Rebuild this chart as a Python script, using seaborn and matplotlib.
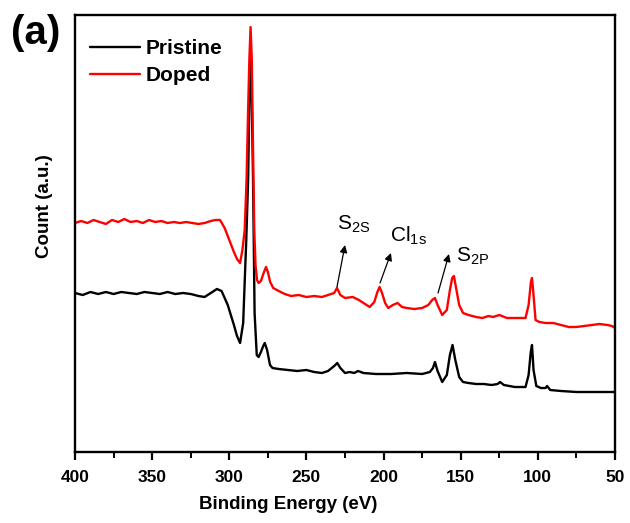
import numpy as np
import pandas as pd
import matplotlib
matplotlib.use("Agg")
import matplotlib.pyplot as plt
import seaborn as sns
from matplotlib.ticker import MultipleLocator

# ---- data (binding energy in eV, count in arbitrary units) ----
pristine_energy = [400, 395, 390, 385, 380, 375, 370, 365, 360, 355, 350, 345, 340, 335, 330, 325,
                   320, 316, 312, 308, 305, 301, 297, 295, 293, 291, 289, 287.8, 287, 286.2, 285.4,
                   284.6, 283.6, 282.2, 281, 279.5, 278, 277, 275.5, 273.6, 272, 268, 262, 256, 250,
                   245, 240, 236, 232, 230, 228, 225, 222, 219, 216.6, 213, 205, 195, 185, 175, 170,
                   168, 166.7, 165, 162, 159, 157, 155.3, 153.5, 151, 148.5, 145, 140, 135, 130, 126,
                   124.5, 122, 115, 108, 106, 104.6, 103.8, 102.8, 101, 98, 95, 94, 92, 85, 75, 65,
                   55, 50]
pristine_count = [159, 157, 160, 158, 160, 158, 160, 159, 158, 160, 159, 158, 160, 158, 159, 158,
                  156, 155, 159, 163, 161, 147, 127, 116, 109, 129, 212, 272, 350, 397, 350,
                  272, 139, 97, 95, 100, 106, 109, 102, 87, 84, 83, 82, 81, 82,
                  80, 79, 81, 86, 89, 84, 79, 80, 79, 81, 79, 78, 78, 79, 78, 80,
                  84, 90, 81, 70, 77, 97, 107, 92, 75, 70, 69, 68, 68, 67, 68,
                  70, 67, 65, 65, 77, 100, 107, 82, 66, 64, 64, 66, 62, 61, 60, 60,
                  60, 60]

doped_energy = [400, 396, 392, 388, 384, 380, 376, 372, 368, 364, 360, 356, 352, 348, 344, 340,
                336, 332, 328, 324, 320, 316, 312, 309, 306, 303, 300, 297, 295, 293, 291.5, 290,
                288.8, 287.8, 287, 286.2, 285.4, 284.6, 283.8, 283, 282, 281, 279.5, 277.5, 276.2,
                275, 273.5, 271.5, 268, 264, 260, 255, 250, 245, 240, 236, 232, 230.2, 228, 225,
                220, 216, 212, 209, 206, 204, 202.6, 201, 199, 197, 194, 191, 188, 185, 180, 175,
                171, 168.5, 166.7, 165, 162, 159, 157, 155.5, 154.4, 153, 151, 148.5, 145, 140,
                136, 132, 129, 125, 120, 113, 108, 106, 104.5, 103.8, 102.8, 101.5, 99, 95, 90,
                85, 80, 75, 70, 65, 60, 55, 52, 50]
doped_count = [229, 231, 229, 232, 230, 228, 232, 230, 233, 230, 231, 229, 232, 230, 231, 229,
               230, 229, 230, 229, 228, 229, 231, 232, 232, 224, 212, 200, 193, 189, 202, 222,
               272, 342, 392, 425, 392, 302, 222, 187, 172, 169, 171, 180, 185,
               180, 170, 164, 161, 158, 156, 157, 155, 156, 155, 157, 159, 164, 157, 154,
               155, 152, 148, 145, 150, 160, 165, 159, 149, 144, 147, 149, 145, 144, 143, 144,
               147, 152, 154, 147, 137, 142, 162, 174, 176, 164, 147, 139, 137, 135,
               134, 136, 135, 137, 134, 134, 134, 147, 170, 174, 157, 132, 130, 129, 129,
               127, 125, 125, 126, 127, 128, 127, 126, 124]

series_names = ["Pristine", "Doped"]
series_colors = ["#000000", "#ff0000"]
x_ticks = [400, 350, 300, 250, 200, 150, 100, 50]

# annotations: (label, arrow tail (E, count), arrow head (E, count), text position (E, count))
peak_labels = [r"S$_{\mathregular{2S}}$", r"Cl$_{\mathregular{1s}}$", r"S$_{\mathregular{2P}}$"]
arrow_tails = [(230.2, 165), (202.3, 169), (164.7, 159)]
arrow_heads = [(225.0, 207), (195.2, 199), (157.6, 198)]
text_pos = [(230.2, 222), (195.8, 210), (153.0, 190)]

df = pd.concat([
    pd.DataFrame({"Binding Energy (eV)": pristine_energy, "Count": pristine_count,
                  "Sample": series_names[0]}),
    pd.DataFrame({"Binding Energy (eV)": doped_energy, "Count": doped_count,
                  "Sample": series_names[1]}),
], ignore_index=True)

sns.set_theme(style="ticks")
plt.rcParams["font.family"] = ["Liberation Sans", "DejaVu Sans"]
plt.rcParams["mathtext.fontset"] = "custom"
plt.rcParams["mathtext.rm"] = "Liberation Sans"
plt.rcParams["mathtext.it"] = "Liberation Sans:italic"
plt.rcParams["mathtext.bf"] = "Liberation Sans:bold"
plt.rcParams["text.color"] = "black"
plt.rcParams["axes.labelcolor"] = "black"
plt.rcParams["xtick.color"] = "black"
plt.rcParams["ytick.color"] = "black"
plt.rcParams["axes.edgecolor"] = "black"

fig = plt.figure(figsize=(6.3, 5.23), dpi=100)
ax = fig.add_axes([75 / 630, 1 - 452 / 523, 540 / 630, 437 / 523])

sns.lineplot(data=df, x="Binding Energy (eV)", y="Count", hue="Sample",
             palette=dict(zip(series_names, series_colors)), hue_order=series_names,
             sort=False, estimator=None, linewidth=1.7, ax=ax)

ax.set_xlim(400, 50)
ax.set_ylim(0, 437)
ax.set_xticks(x_ticks)
ax.xaxis.set_minor_locator(MultipleLocator(25))
ax.set_yticks([])
ax.tick_params(axis="x", which="major", direction="out", length=6, width=1.6,
               labelsize=12.5, pad=7, top=False, colors="black")
ax.tick_params(axis="x", which="minor", direction="out", length=4, width=1.4, top=False,
               colors="black")
for lbl in ax.get_xticklabels():
    lbl.set_fontweight("bold")
for sp in ax.spines.values():
    sp.set_visible(True)
    sp.set_linewidth(1.7)
    sp.set_color("black")

ax.set_xlabel("Binding Energy (eV)", fontsize=13.5, fontweight="bold", color="black")
ax.set_ylabel("Count (a.u.)", fontsize=13.5, fontweight="bold", color="black")
ax.xaxis.set_label_coords(0.394, -0.101)
ax.yaxis.set_label_coords(-0.04, 0.563)

leg = ax.legend(loc="upper left", bbox_to_anchor=(0.0, 0.978), frameon=False,
                prop={"weight": "bold", "size": 15}, handlelength=2.4,
                handletextpad=0.3, labelspacing=0.38, borderaxespad=0.3)
for line in leg.get_lines():
    line.set_linewidth(1.7)
for t in leg.get_texts():
    t.set_color("black")

for lab, tail, head, pos in zip(peak_labels, arrow_tails, arrow_heads, text_pos):
    ax.annotate("", xy=head, xytext=tail,
                arrowprops=dict(arrowstyle="-|>", color="black", lw=0.9,
                                mutation_scale=11, shrinkA=0, shrinkB=0))
    ax.text(pos[0], pos[1], lab, fontsize=15, ha="left", va="baseline", color="black")

fig.text(11 / 630, 1 - 33 / 523, "(a)", fontsize=29, fontweight="bold",
         ha="left", va="center", color="black")

fig.savefig("out.png", dpi=100)
